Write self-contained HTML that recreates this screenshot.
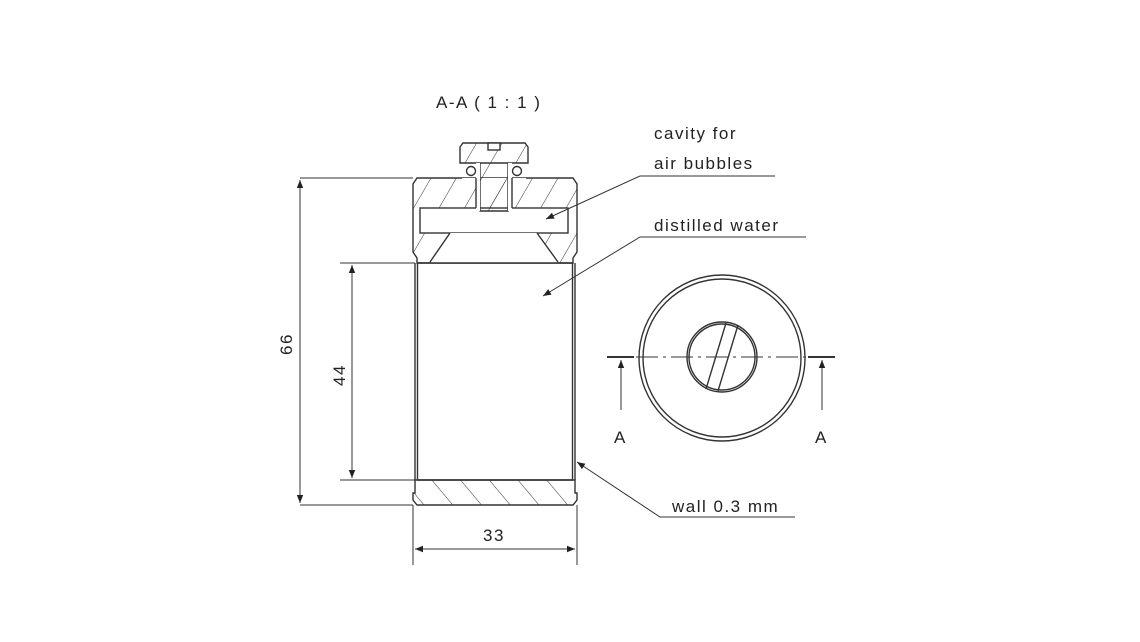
<!DOCTYPE html>
<html><head><style>body{margin:0;background:#fff}svg{display:block}text{font-family:"Liberation Sans",sans-serif;font-size:17px;fill:#222;letter-spacing:1.5px}</style></head><body>
<svg width="1140" height="642" viewBox="0 0 1140 642" xmlns="http://www.w3.org/2000/svg">
<defs>
<pattern id="h" width="22" height="22" patternUnits="userSpaceOnUse" patternTransform="rotate(30)"><line x1="0" y1="0" x2="0" y2="22" stroke="#333" stroke-width="1"/></pattern>
<pattern id="h2" width="22" height="22" patternUnits="userSpaceOnUse" patternTransform="rotate(-40)"><line x1="0" y1="0" x2="0" y2="22" stroke="#333" stroke-width="1"/></pattern>
<marker id="ar" viewBox="0 0 10 10" refX="10" refY="5" markerWidth="12" markerHeight="8" orient="auto-start-reverse"><path d="M0,1 L10,5 L0,9z" fill="#222"/></marker>
</defs>
<g stroke="#333" stroke-width="1.4" fill="none">
<text x="436" y="108" stroke="none">A-A ( 1 : 1 )</text>
<path d="M417,178 L573,178 L577,184 L577,252 L573,258 L573,263 L417,263 L417,258 L413,252 L413,184 Z" fill="url(#h)"/>
<rect x="420" y="208" width="148" height="25" fill="#fff"/>
<path d="M450,233 L537,233 L558,263 L430,263Z" fill="#fff" stroke="none"/>
<path d="M450,233 L430,262 M537,233 L558,262"/>
<line x1="417" y1="263" x2="573" y2="263"/>
<rect x="462" y="178" width="64" height="2" fill="#fff" stroke="none"/>
<path d="M460,147 L463,143 L525,143 L528,147 L528,163 L460,163 Z" fill="url(#h)"/>
<rect x="488" y="143" width="12" height="7" fill="#fff"/>
<path d="M480,163 L480,211 L508,211 L508,163" fill="url(#h)"/>
<rect x="476" y="163" width="4" height="48" fill="#fff" stroke="none"/>
<rect x="508" y="163" width="4" height="48" fill="#fff" stroke="none"/>
<line x1="476" y1="178" x2="476" y2="208"/><line x1="512" y1="178" x2="512" y2="208"/>
<circle cx="471" cy="171" r="4.5"/><circle cx="517" cy="171" r="4.5"/>
<line x1="415" y1="263" x2="415" y2="480"/><line x1="417.5" y1="263" x2="417.5" y2="480"/>
<line x1="572.5" y1="263" x2="572.5" y2="480"/><line x1="575" y1="263" x2="575" y2="480"/>
<path d="M415,480 L575,480 L575,493 L577,493 L577,500 L573,505 L417,505 L413,500 L413,493 L415,493 Z" fill="url(#h2)"/>
<line x1="417" y1="480" x2="573" y2="480"/>
<line x1="300" y1="178" x2="413" y2="178" stroke-width="1"/><line x1="300" y1="505" x2="413" y2="505" stroke-width="1"/>
<line x1="300" y1="180" x2="300" y2="503" stroke-width="1" marker-start="url(#ar)" marker-end="url(#ar)"/>
<text x="0" y="0" stroke="none" transform="translate(292,355) rotate(-90)">66</text>
<line x1="340" y1="263" x2="415" y2="263" stroke-width="1"/><line x1="340" y1="480" x2="415" y2="480" stroke-width="1"/>
<line x1="352" y1="265" x2="352" y2="478" stroke-width="1" marker-start="url(#ar)" marker-end="url(#ar)"/>
<text x="0" y="0" stroke="none" transform="translate(345,386) rotate(-90)">44</text>
<line x1="413" y1="505" x2="413" y2="565" stroke-width="1"/><line x1="577" y1="505" x2="577" y2="565" stroke-width="1"/>
<line x1="415" y1="549" x2="575" y2="549" stroke-width="1" marker-start="url(#ar)" marker-end="url(#ar)"/>
<text x="483" y="541" stroke="none">33</text>
<text x="654" y="139" stroke="none">cavity for</text>
<text x="654" y="169" stroke="none">air bubbles</text>
<polyline points="775,176 640,176 546,219" stroke-width="1" marker-end="url(#ar)"/>
<text x="654" y="231" stroke="none">distilled water</text>
<polyline points="806,237 640,237 543,296" stroke-width="1" marker-end="url(#ar)"/>
<text x="672" y="512" stroke="none">wall 0.3 mm</text>
<polyline points="795,517 660,517 577,462" stroke-width="1" marker-end="url(#ar)"/>
<circle cx="722" cy="358" r="83"/><circle cx="722" cy="358" r="79"/>
<circle cx="722" cy="357" r="35"/><circle cx="722" cy="357" r="33"/>
<line x1="726" y1="323" x2="706" y2="389"/><line x1="738" y1="325" x2="718" y2="391"/>
<line x1="636" y1="357" x2="808" y2="357" stroke-width="1" stroke-dasharray="22,5,3,5"/>
<line x1="607" y1="357" x2="634" y2="357" stroke-width="2"/>
<line x1="808" y1="357" x2="835" y2="357" stroke-width="2"/>
<line x1="621" y1="410" x2="621" y2="360" stroke-width="1" marker-end="url(#ar)"/>
<line x1="822" y1="410" x2="822" y2="360" stroke-width="1" marker-end="url(#ar)"/>
<text x="614" y="443" stroke="none">A</text>
<text x="815" y="443" stroke="none">A</text>
</g>
</svg>
</body></html>
